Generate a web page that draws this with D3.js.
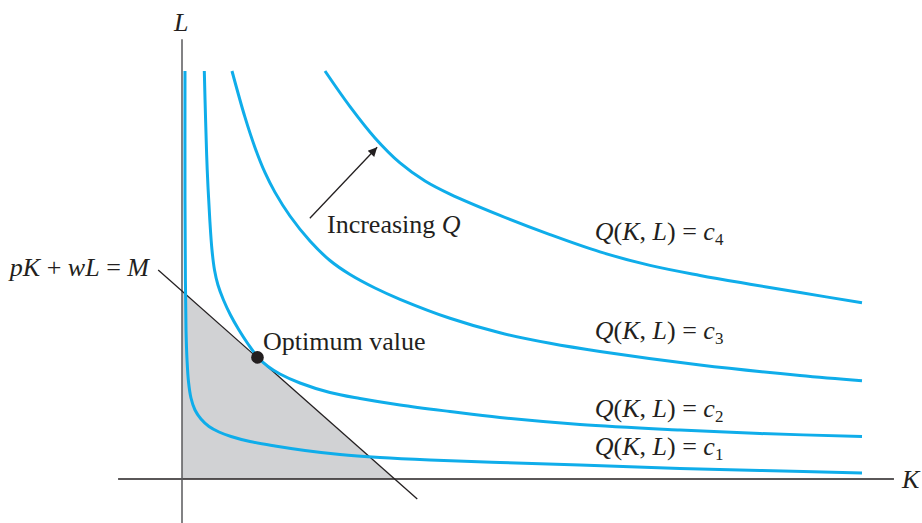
<!DOCTYPE html>
<html>
<head>
<meta charset="utf-8">
<script src="https://cdn.jsdelivr.net/npm/d3@7"></script>
<style>
  html, body { margin: 0; padding: 0; background: #fff; }
  svg text { font-family: "Liberation Serif", "Times New Roman", "DejaVu Serif", serif; fill: #231f20; white-space: pre; }
</style>
</head>
<body>
<svg id="chart" width="922" height="523"></svg>
<script>
// ---- Data (K, L) ----
const curveNames = ["c1", "c2", "c3", "c4"];
const c1K = [0.044, 0.044, 0.050, 0.059, 0.074, 0.096, 0.132, 0.191, 0.279, 0.397, 0.544, 0.721, 1.000, 1.368, 1.809, 2.324, 2.912, 3.647, 4.676, 5.853, 7.324, 8.500, 10.0];
const c1L = [10.0, 6.838, 4.877, 3.652, 2.917, 2.377, 1.985, 1.691, 1.471, 1.287, 1.152, 1.042, 0.919, 0.809, 0.699, 0.600, 0.527, 0.466, 0.404, 0.343, 0.257, 0.208, 0.147];
const c2K = [0.328, 0.347, 0.371, 0.409, 0.441, 0.478, 0.529, 0.610, 0.713, 0.838, 0.971, 1.113, 1.265, 1.441, 1.735, 2.176, 2.618, 3.206, 3.941, 4.676, 5.853, 7.324, 8.500, 10.0];
const c2L = [10.0, 8.799, 7.574, 6.348, 5.613, 5.123, 4.755, 4.387, 4.020, 3.652, 3.309, 2.990, 2.757, 2.574, 2.353, 2.120, 1.973, 1.814, 1.654, 1.507, 1.336, 1.201, 1.115, 1.042];
const c3K = [0.735, 0.926, 1.074, 1.221, 1.368, 1.588, 1.882, 2.176, 2.471, 2.838, 3.206, 3.941, 4.676, 5.412, 6.147, 7.618, 9.088, 10.0];
const c3L = [10.0, 8.868, 8.120, 7.507, 7.025, 6.446, 5.833, 5.355, 5.012, 4.681, 4.404, 3.939, 3.583, 3.326, 3.125, 2.794, 2.537, 2.407];
const c4K = [2.103, 2.471, 2.838, 3.206, 3.574, 3.941, 4.676, 5.412, 6.147, 6.882, 7.618, 8.353, 9.088, 10.0];
const c4L = [10.0, 9.127, 8.360, 7.748, 7.304, 6.983, 6.461, 5.990, 5.566, 5.235, 4.990, 4.775, 4.569, 4.321];
const curveK = [c1K, c2K, c3K, c4K];
const curveL = [c1L, c2L, c3L, c4L];

// budget line pK + wL = M
const budgetK = [-0.35, 3.46];
const budgetL = [5.12, -0.49];
const interceptK = 3.12;   // M/p
const interceptL = 4.60;   // M/w
const optimum = [1.11, 2.98];
const arrowFrom = [1.88, 6.39];
const arrowTo = [2.87, 8.13];

// axis extents
const kAxisRange = [-0.94, 10.47];
const lAxisRange = [-1.08, 10.78];

// label positions
const labelSubs = ["1", "2", "3", "4"];
const labelL = [0.58, 1.52, 3.44, 5.85];
const labelK = 6.07;

// ---- Drawing ----
const svg = d3.select("#chart");
const x = d3.scaleLinear().domain([0, 10]).range([182, 862]);
const y = d3.scaleLinear().domain([0, 10]).range([479, 71]);

const blue = "#0fadea";
const ink = "#231f20";

// shaded feasible region
svg.append("path")
  .attr("d", d3.line()([[x(0), y(0)], [x(0), y(interceptL)], [x(interceptK), y(0)]]) + "Z")
  .attr("fill", "#d1d2d4");

// axes
svg.append("line")
  .attr("x1", x(kAxisRange[0])).attr("x2", x(kAxisRange[1]))
  .attr("y1", y(0)).attr("y2", y(0))
  .attr("stroke", ink).attr("stroke-width", 1.3);
svg.append("line")
  .attr("x1", x(0)).attr("x2", x(0))
  .attr("y1", y(lAxisRange[0])).attr("y2", y(lAxisRange[1]))
  .attr("stroke", "#58595b").attr("stroke-width", 1.5);

// budget line
svg.append("line")
  .attr("x1", x(budgetK[0])).attr("y1", y(budgetL[0]))
  .attr("x2", x(budgetK[1])).attr("y2", y(budgetL[1]))
  .attr("stroke", ink).attr("stroke-width", 1.3);

// isoquants
const line = d3.line()
  .x(d => x(d[0])).y(d => y(d[1]))
  .curve(d3.curveCatmullRom.alpha(0.5));
curveNames.forEach((n, i) => {
  const pts = curveK[i].map((k, j) => [k, curveL[i][j]]);
  svg.append("path")
    .attr("d", line(pts))
    .attr("fill", "none")
    .attr("stroke", blue)
    .attr("stroke-width", 3);
});

// optimum dot
svg.append("circle")
  .attr("cx", x(optimum[0])).attr("cy", y(optimum[1]))
  .attr("r", 6.3).attr("fill", ink);

// arrow
const defs = svg.append("defs");
defs.append("marker")
  .attr("id", "ah").attr("viewBox", "0 0 10 10")
  .attr("refX", 10).attr("refY", 5)
  .attr("markerWidth", 11).attr("markerHeight", 9)
  .attr("markerUnits", "userSpaceOnUse")
  .attr("orient", "auto")
  .append("path").attr("d", "M0,0 L10,5 L0,10 Z").attr("fill", ink);
svg.append("line")
  .attr("x1", x(arrowFrom[0])).attr("y1", y(arrowFrom[1]))
  .attr("x2", x(arrowTo[0])).attr("y2", y(arrowTo[1]))
  .attr("stroke", ink).attr("stroke-width", 1.3)
  .attr("marker-end", "url(#ah)");

// text helpers
const FS = 26;
function rich(xp, yp, parts, anchor) {
  const t = svg.append("text").attr("x", xp).attr("y", yp)
    .attr("font-size", FS).attr("text-anchor", anchor || "start");
  parts.forEach(p => {
    const s = t.append("tspan").text(p.t);
    if (p.i) s.attr("font-style", "italic");
    if (p.sub) s.attr("font-size", 17).attr("dy", 5);
  });
  return t;
}

// axis titles
rich(174, 31, [{t: "L", i: true}]);
rich(902, 488, [{t: "K", i: true}]);

// budget label
rich(149, 276, [
  {t: "p", i: true}, {t: "K", i: true}, {t: " + "}, {t: "w", i: true},
  {t: "L", i: true}, {t: " = "}, {t: "M", i: true}
], "end");

// annotations
rich(327, 233, [{t: "Increasing "}, {t: "Q", i: true}]);
rich(263, 350, [{t: "Optimum value"}]);

// isoquant labels
labelSubs.forEach((s, i) => {
  rich(x(labelK), y(labelL[i]), [
    {t: "Q", i: true}, {t: "("}, {t: "K", i: true}, {t: ", "},
    {t: "L", i: true}, {t: ") = "}, {t: "c", i: true}, {t: s, sub: true}
  ]);
});
</script>
</body>
</html>
